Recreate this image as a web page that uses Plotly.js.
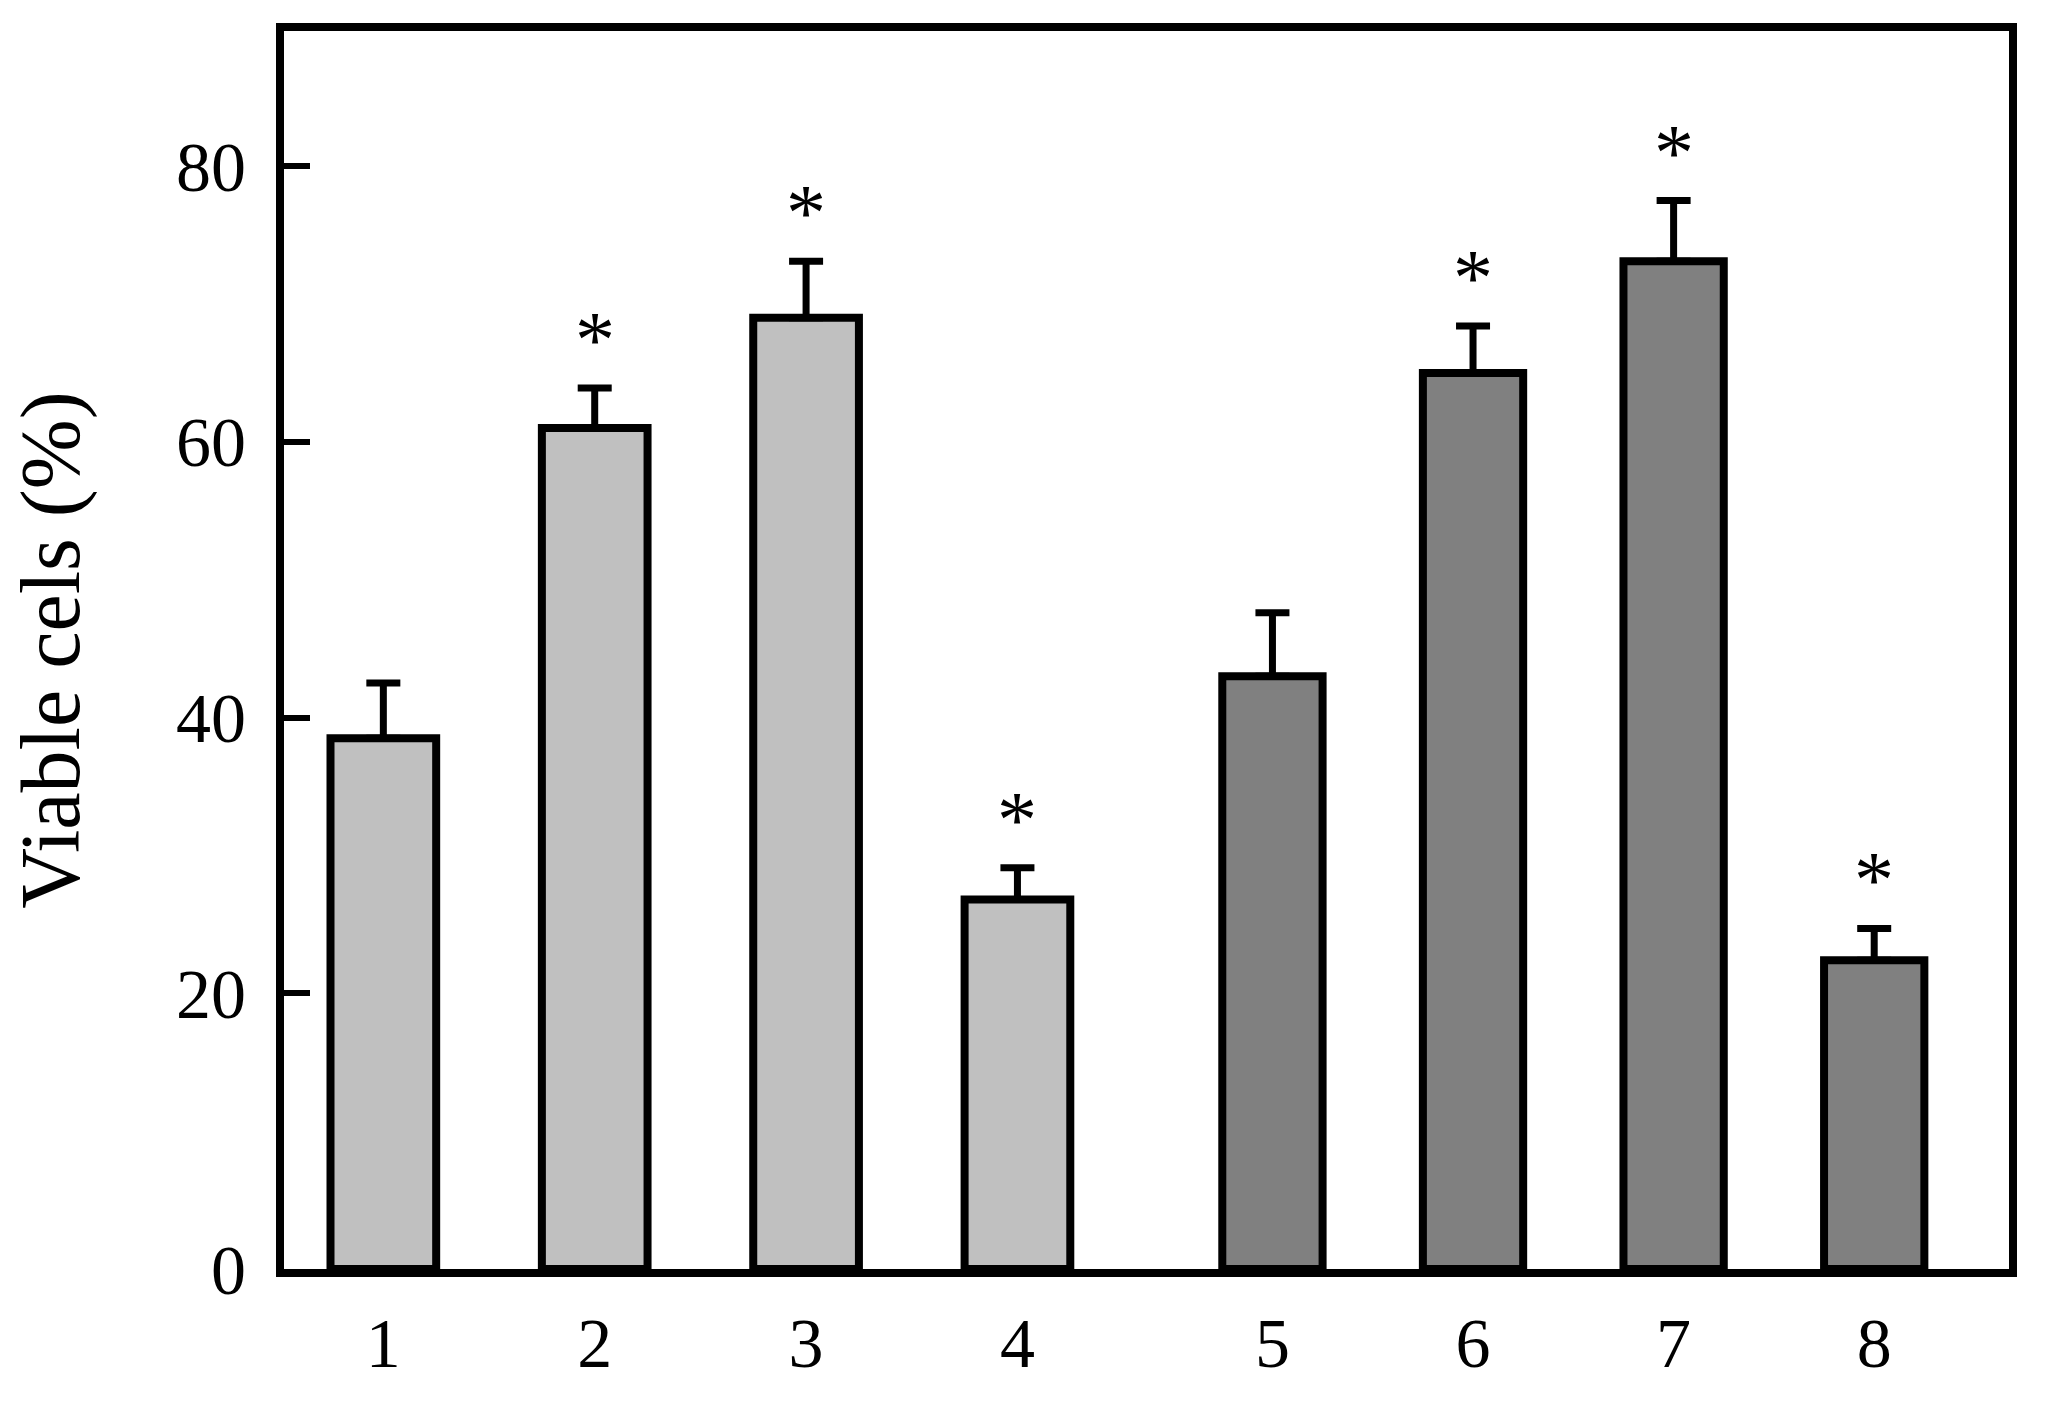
<!DOCTYPE html>
<html>
<head>
<meta charset="utf-8">
<script src="https://cdn.plot.ly/plotly-3.0.1.min.js"></script>
<style>
  html, body { margin: 0; padding: 0; background: #ffffff; }
  #chart { width: 2048px; height: 1404px; }
</style>
</head>
<body>
<div id="chart"></div>
<script>
// ---- data ----
const groupA_x = [1, 2, 3, 4];
const groupA_values = [38.5, 61.0, 69.0, 26.8];
const groupA_errors = [4.0, 2.9, 4.1, 2.3];
const groupA_marks = ["", "*", "*", "*"];

const groupB_x = [5, 6, 7, 8];
const groupB_values = [43.0, 65.0, 73.1, 22.4];
const groupB_errors = [4.6, 3.4, 4.4, 2.3];
const groupB_marks = ["", "*", "*", "*"];

const yTickValues = [0, 20, 40, 60, 80];
const yTitle = "Viable cels (%)";

// ---- styling ----
const FONT = "Liberation Serif, Times New Roman, serif";
const LINE_W = 8;

function barTrace(xs, ys, errs, color, xa, ya) {
  return {
    type: "bar",
    x: xs,
    y: ys,
    xaxis: xa,
    yaxis: ya,
    width: 0.5,
    marker: { color: color, line: { color: "#000000", width: LINE_W } },
    error_y: {
      type: "data",
      symmetric: false,
      array: errs,
      arrayminus: errs.map(() => 0),
      color: "#000000",
      thickness: 7,
      width: 17
    },
    showlegend: false,
    hoverinfo: "x+y"
  };
}

function starAnnotations(xs, ys, errs, marks, xref, yref) {
  const out = [];
  xs.forEach((x, i) => {
    if (!marks[i]) return;
    out.push({
      x: x,
      y: ys[i] + errs[i],
      xref: xref,
      yref: yref,
      text: marks[i],
      showarrow: false,
      yanchor: "middle",
      yshift: 48,
      font: { family: FONT, size: 80, color: "#000000" }
    });
  });
  return out;
}

const traces = [
  barTrace(groupA_x, groupA_values, groupA_errors, "#c0c0c0", "x", "y"),
  barTrace(groupB_x, groupB_values, groupB_errors, "#808080", "x2", "y2")
];

const split = 0.5101;

const xCommon = {
  showline: true,
  linecolor: "#000000",
  linewidth: LINE_W,
  mirror: true,
  ticks: "",
  showgrid: false,
  zeroline: false,
  tickmode: "array",
  tickfont: { family: FONT, size: 70, color: "#000000" },
  ticklabelstandoff: 6,
  fixedrange: true
};

const layout = {
  width: 2048,
  height: 1404,
  paper_bgcolor: "#ffffff",
  plot_bgcolor: "#ffffff",
  margin: { l: 284, r: 39, t: 31, b: 135 },
  bargap: 0,
  xaxis: Object.assign({}, xCommon, {
    domain: [0, split],
    range: [0.530, 4.693],
    tickvals: groupA_x,
    ticktext: groupA_x.map(String),
    anchor: "y"
  }),
  xaxis2: Object.assign({}, xCommon, {
    domain: [split, 1],
    range: [4.459, 8.672],
    tickvals: groupB_x,
    ticktext: groupB_x.map(String),
    anchor: "y2"
  }),
  yaxis: {
    range: [0, 89.8],
    anchor: "x",
    showline: true,
    linecolor: "#000000",
    linewidth: LINE_W,
    ticks: "inside",
    ticklen: 26,
    tickwidth: 6,
    tickcolor: "#000000",
    tickmode: "array",
    tickvals: yTickValues,
    ticktext: yTickValues.map(String),
    tickfont: { family: FONT, size: 70, color: "#000000" },
    ticklabelstandoff: 16,
    showgrid: false,
    zeroline: false,
    title: {
      text: yTitle,
      font: { family: FONT, size: 84, color: "#000000" },
      standoff: 72
    },
    fixedrange: true
  },
  yaxis2: {
    matches: "y",
    range: [0, 89.8],
    anchor: "x2",
    side: "right",
    showline: true,
    linecolor: "#000000",
    linewidth: LINE_W,
    ticks: "",
    showticklabels: false,
    showgrid: false,
    zeroline: false,
    fixedrange: true
  },
  annotations: starAnnotations(groupA_x, groupA_values, groupA_errors, groupA_marks, "x", "y")
    .concat(starAnnotations(groupB_x, groupB_values, groupB_errors, groupB_marks, "x2", "y2"))
};

Plotly.newPlot("chart", traces, layout, { displayModeBar: false, staticPlot: true });
</script>
</body>
</html>
